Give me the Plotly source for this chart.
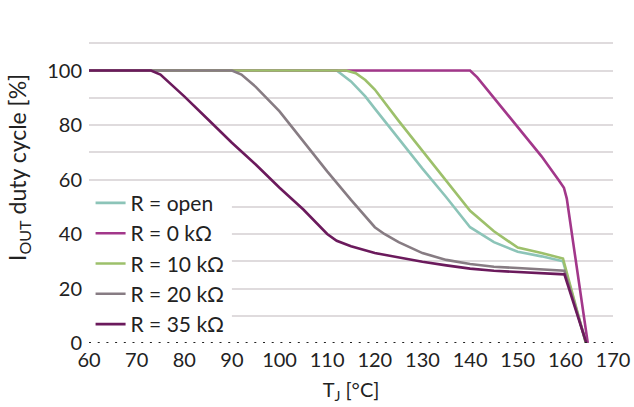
import plotly.graph_objects as go

# ---- data ----
open_T = [60, 112, 115, 118, 120, 125, 130, 135, 140, 145, 150, 155, 159.5, 164.3]
open_V = [100, 100, 96, 90.5, 86, 75, 64, 53.5, 42.5, 37, 33.5, 31.8, 30, 0]

r0_T = [60, 140, 141.5, 145, 150, 155, 158.5, 159.7, 160.3, 164.7]
r0_V = [100, 100, 97.5, 90, 79, 68.5, 60, 57, 53, 0]

r10_T = [60, 114, 116, 118, 120, 125, 130, 135, 140, 145, 150, 155, 159.5, 164.3]
r10_V = [100, 100, 99, 96.5, 93, 81.5, 70.5, 59.5, 48.5, 41, 35, 33, 31, 0]

r20_T = [60, 90, 92, 95, 100, 105, 110, 115, 120, 122, 125, 130, 135, 140, 145, 150, 155, 159.8, 164.4]
r20_V = [100, 100, 98.5, 94, 85, 74, 63, 52.5, 42.5, 40, 37, 33, 30.5, 29, 28, 27.5, 27, 26.5, 0]

r35_T = [60, 73, 75, 80, 85, 90, 95, 100, 105, 110, 112, 115, 120, 125, 130, 135, 140, 145, 150, 155, 159.8, 164.4]
r35_V = [100, 100, 98.5, 90.5, 82, 73.5, 65.5, 57, 49, 40, 37.5, 35.5, 33, 31.3, 29.8, 28.5, 27.3, 26.5, 26, 25.7, 25.2, 0]

series_names = ["R = open", "R = 0 kΩ", "R = 10 kΩ", "R = 20 kΩ", "R = 35 kΩ"]
series_T = [open_T, r0_T, r10_T, r20_T, r35_T]
series_V = [open_V, r0_V, r10_V, r20_V, r35_V]
colors = ["#8cc4b8", "#a2378a", "#9dc06b", "#877c83", "#6b1a5c"]

y_tickvals = [0, 20, 40, 60, 80, 100]
x_tickvals = [60, 70, 80, 90, 100, 110, 120, 130, 140, 150, 160, 170]

FONT = "Lato"
TXT = "#222222"
GRID = "#dfdbdd"

fig = go.Figure()
for name, T, V, c in zip(series_names, series_T, series_V, colors):
    fig.add_trace(go.Scatter(x=T, y=V, mode="lines", name=name,
                             line=dict(color=c, width=2.6)))

# white backing behind the legend (hides gridlines, keeps dotted zero line visible)
fig.add_shape(type="rect", xref="x", yref="y", x0=60, x1=90, y0=3, y1=56,
              fillcolor="white", line=dict(width=0), layer="between")

fig.add_shape(type="line", xref="paper", yref="y", x0=0, x1=1, y0=0, y1=0,
              line=dict(color="#222222", width=2.2, dash="2px,6.7px"), layer="above")

fig.add_annotation(text="I<sub>OUT</sub> duty cycle [%]", xref="paper", yref="paper",
                   x=0, y=0.535, xanchor="center", yanchor="middle", xshift=-71,
                   textangle=-90, showarrow=False, font=dict(family=FONT, size=23, color=TXT))

fig.update_layout(
    width=634, height=407,
    margin=dict(l=89, r=21, t=16, b=64),
    paper_bgcolor="white", plot_bgcolor="white",
    font=dict(family=FONT, size=20, color=TXT),
    showlegend=True,
    legend=dict(x=0.003, y=0.49, xanchor="left", yanchor="top",
                bgcolor="rgba(0,0,0,0)", font=dict(family=FONT, size=21, color=TXT),
                itemwidth=30, borderwidth=0),
    xaxis=dict(range=[60, 170], tickvals=x_tickvals, showgrid=False, zeroline=False,
               showline=False, ticks="", tickfont=dict(size=20), automargin=False,
               ticklabelstandoff=3,
               title=dict(text="T<sub>J</sub> [°C]", font=dict(size=20), standoff=12)),
    yaxis=dict(range=[0, 120], tickvals=y_tickvals, automargin=False,
               showgrid=True, gridcolor=GRID, gridwidth=1.6, ticklabelstandoff=6,
               minor=dict(dtick=10, tick0=0, showgrid=True, gridcolor=GRID, gridwidth=1.6, ticks=""),
               zeroline=False, showline=False, ticks="", tickfont=dict(size=20)),
)

fig.write_html("out.html", config={"displayModeBar": False},
               post_script="document.body.style.margin='0';document.body.style.overflow='hidden';")
